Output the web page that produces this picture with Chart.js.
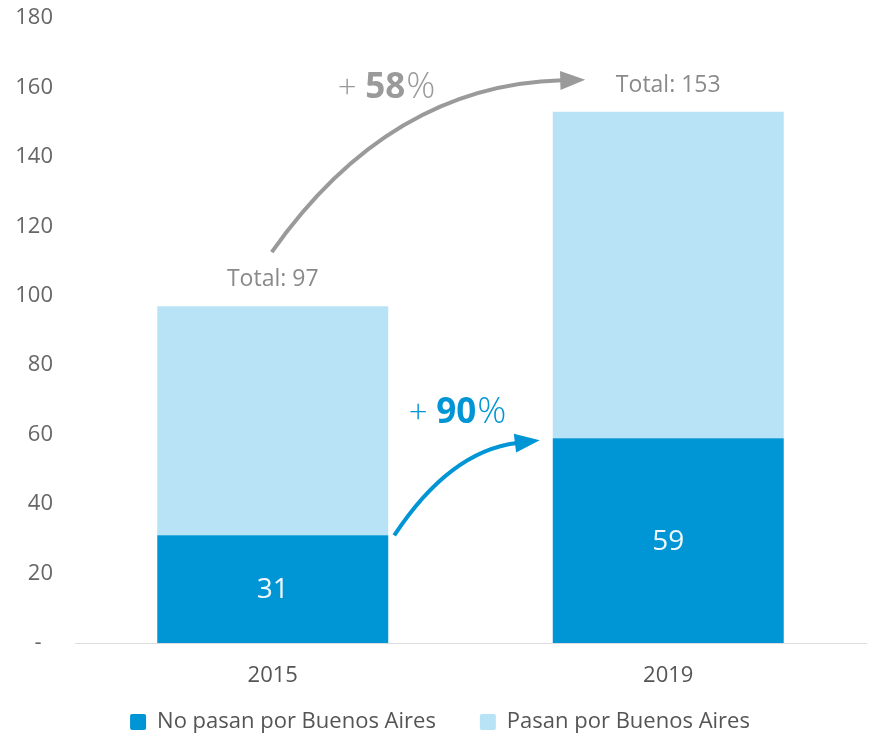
<!DOCTYPE html>
<html>
<head>
<meta charset="utf-8">
<script src="https://cdn.jsdelivr.net/npm/chart.js@4.4.0/dist/chart.umd.min.js"></script>
<style>
  html, body { margin: 0; padding: 0; background: #fff; }
  #wrap { width: 874px; height: 736px; }
</style>
</head>
<body>
<div id="wrap"><canvas id="myChart" width="874" height="736"></canvas></div>
<script>
var years = ['2015', '2019'];
var noPasan = [31, 59];
var pasan = [66, 94];
var seriesNames = ['No pasan por Buenos Aires', 'Pasan por Buenos Aires'];
var growthTotal = '58';
var growthNoPasan = '90';

var darkBlue = '#0095d5';
var lightBlue = '#b8e3f7';

function drawArrow(ctx, x0, y0, cx, cy, x1, y1, color, width, headLen, headW) {
    // the curve stops where the arrow head starts
    var ang = Math.atan2(y1 - cy, x1 - cx);
    var bx = x1 - Math.cos(ang) * headLen;
    var by = y1 - Math.sin(ang) * headLen;
    ctx.strokeStyle = color;
    ctx.lineWidth = width;
    ctx.lineCap = 'butt';
    ctx.beginPath();
    ctx.moveTo(x0, y0);
    ctx.quadraticCurveTo(cx, cy, bx + Math.cos(ang) * 2, by + Math.sin(ang) * 2);
    ctx.stroke();
    ctx.fillStyle = color;
    ctx.beginPath();
    ctx.moveTo(x1, y1);
    ctx.lineTo(bx + Math.sin(ang) * headW / 2, by - Math.cos(ang) * headW / 2);
    ctx.lineTo(bx - Math.sin(ang) * headW / 2, by + Math.cos(ang) * headW / 2);
    ctx.closePath();
    ctx.fill();
}

function drawGrowth(ctx, x, y, num, color) {
    ctx.fillStyle = color;
    ctx.textBaseline = 'alphabetic';
    ctx.textAlign = 'left';
    ctx.font = '300 33px "Open Sans"';
    ctx.fillText('+ ', x, y);
    var w = ctx.measureText('+ ').width;
    ctx.font = 'bold 35px "Open Sans"';
    ctx.fillText(num, x + w, y);
    w += ctx.measureText(num).width + 1;
    ctx.font = '300 36px "Open Sans"';
    ctx.fillText('%', x + w, y);
}

var annotations = {
    id: 'annotations',
    afterLayout: function (chart) {
        // pull the legend up so its wide item spacing does not push the axis
        var lg = chart.legend;
        lg.top -= 26;
        lg.bottom -= 26;
    },
    afterDatasetsDraw: function (chart) {
        var ctx = chart.ctx;
        var xs = chart.scales.x;
        var ys = chart.scales.y;
        var metaDark = chart.getDatasetMeta(0);
        ctx.save();

        // values inside the dark bars
        ctx.font = '28px "Open Sans"';
        ctx.fillStyle = '#eef8fd';
        ctx.textAlign = 'center';
        ctx.textBaseline = 'middle';
        for (var i = 0; i < years.length; i++) {
            var bar = metaDark.data[i];
            ctx.fillText(noPasan[i], bar.x, (bar.y + bar.base) / 2 + 1);
        }

        // totals above the bars
        ctx.font = '23px "Open Sans"';
        ctx.fillStyle = '#8a8a8a';
        ctx.textBaseline = 'alphabetic';
        for (var j = 0; j < years.length; j++) {
            var tot = noPasan[j] + pasan[j];
            ctx.fillText('Total: ' + tot, xs.getPixelForValue(j), ys.getPixelForValue(tot) - 20);
        }

        var x0 = xs.getPixelForValue(0);
        var x1 = xs.getPixelForValue(1);
        var half = metaDark.data[0].width / 2;

        // grey arrow between the totals
        var t0 = noPasan[0] + pasan[0];
        var t1 = noPasan[1] + pasan[1];
        drawArrow(ctx, x0 - 1, ys.getPixelForValue(t0) - 54,
            x0 + 117, ys.getPixelForValue(t1) - 27,
            x1 - 83, ys.getPixelForValue(t1) - 32,
            '#9a9a9a', 4, 25, 19);
        drawGrowth(ctx, x0 + 65, ys.getPixelForValue(t1) - 14, growthTotal, '#9a9a9a');

        // blue arrow between the dark segments
        drawArrow(ctx, x0 + half + 6, ys.getPixelForValue(noPasan[0]),
            x0 + 177, ys.getPixelForValue(noPasan[1]) + 13,
            x1 - half - 13, ys.getPixelForValue(noPasan[1]) + 2,
            darkBlue, 4, 25, 19);
        drawGrowth(ctx, x0 + 136, ys.getPixelForValue(noPasan[1]) - 15, growthNoPasan, darkBlue);

        ctx.restore();
    }
};

var ctx = document.getElementById('myChart').getContext('2d');
var myChart = new Chart(ctx, {
    type: 'bar',
    data: {
        labels: years,
        datasets: [{
            label: seriesNames[0],
            data: noPasan,
            backgroundColor: darkBlue,
            categoryPercentage: 0.584,
            barPercentage: 1
        }, {
            label: seriesNames[1],
            data: pasan,
            backgroundColor: lightBlue,
            categoryPercentage: 0.584,
            barPercentage: 1
        }]
    },
    options: {
        responsive: false,
        animation: false,
        layout: { padding: { top: 18, right: 8, left: 14, bottom: -33 } },
        scales: {
            x: {
                stacked: true,
                grid: { display: false },
                border: { color: '#dddddd', width: 1 },
                ticks: { color: '#555555', font: { family: 'Open Sans', size: 22 }, padding: 12 },
                afterFit: function (scale) { scale.height = 50; }
            },
            y: {
                stacked: true,
                min: 0,
                max: 180,
                grid: { display: false },
                border: { display: false },
                ticks: {
                    stepSize: 20,
                    color: '#666666',
                    padding: 14,
                    font: { family: 'Open Sans', size: 22 },
                    callback: function (v) { return v === 0 ? '-  ' : v; }
                },
                afterFit: function (scale) {
                    scale.width = 61;
                    scale.paddingTop = 0;
                    scale.paddingBottom = 0;
                }
            }
        },
        plugins: {
            tooltip: { enabled: false },
            legend: {
                position: 'bottom',
                labels: {
                    color: '#555555',
                    font: { family: 'Open Sans', size: 22 },
                    boxWidth: 16,
                    boxHeight: 16,
                    useBorderRadius: true,
                    borderRadius: 2,
                    padding: 44
                }
            }
        }
    },
    plugins: [annotations]
});
</script>
</body>
</html>
